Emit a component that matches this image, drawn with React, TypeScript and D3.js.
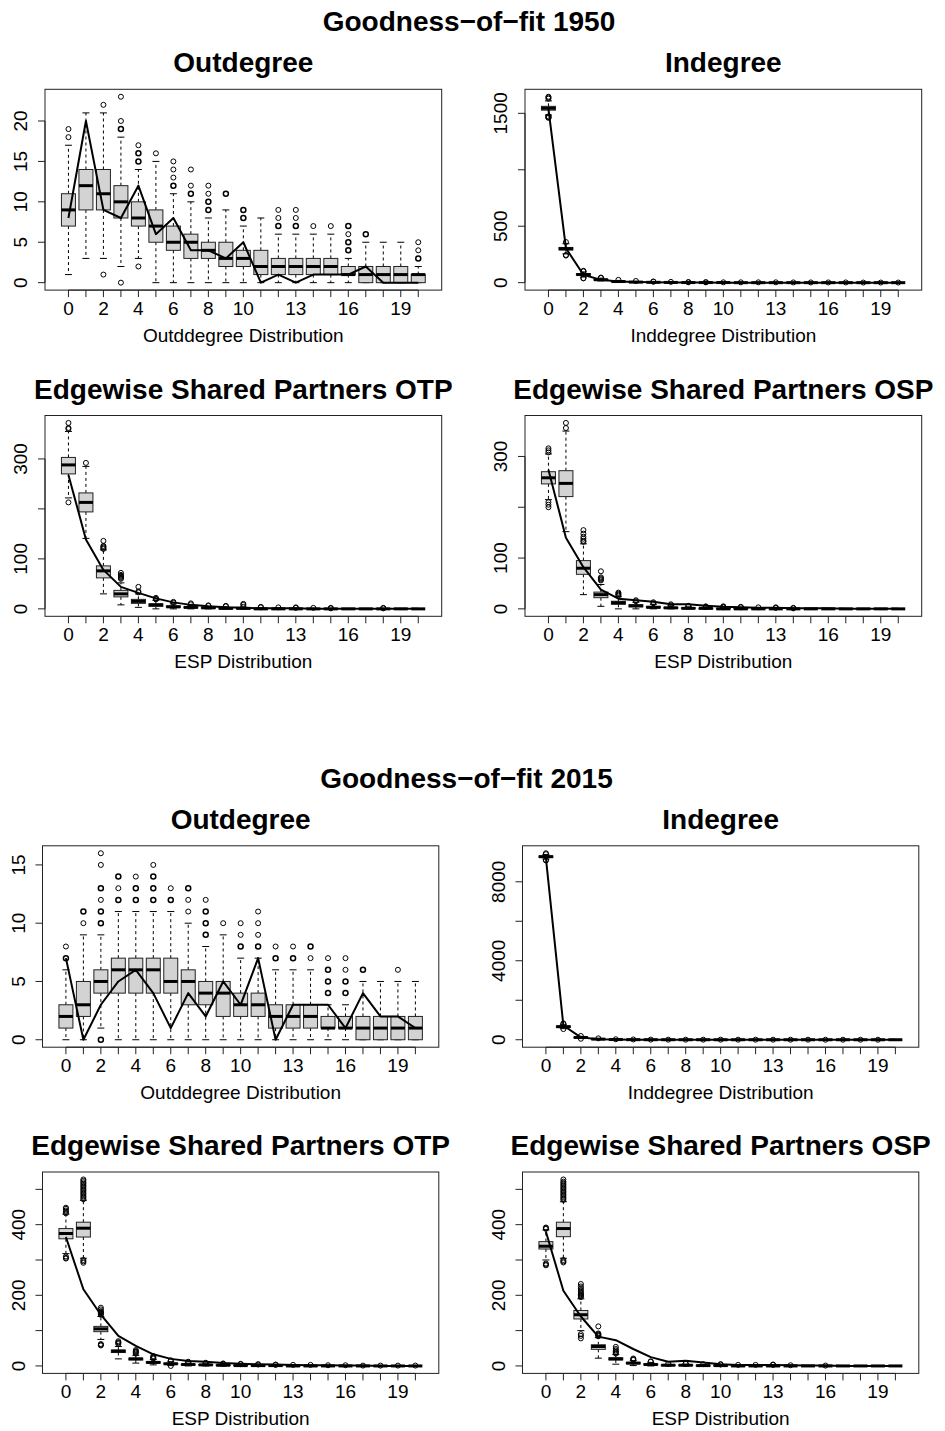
import React from "react";
import * as d3 from "d3";

// ---------- shared axis data ----------
const categories = [0, 1, 2, 3, 4, 5, 6, 7, 8, 9, 10, 11, 12, 13, 14, 15, 16, 17, 18, 19, 20];
const xTickLabels = [0, 2, 4, 6, 8, 10, 13, 16, 19];

// ---------- 1950 Outdegree ----------
// [lower whisker, q1, median, q3, upper whisker]
const out1950Box = [
  [1, 7, 9, 11, 17], [3, 9, 12, 14, 21], [3, 9, 11, 14, 21], [2, 8, 10, 12, 18], [3, 7, 8, 10, 14],
  [0, 5, 7, 9, 15], [0, 4, 5, 7, 11], [0, 3, 5, 6, 10], [0, 3, 4, 5, 8], [0, 2, 3, 5, 9],
  [0, 2, 3, 4, 7], [0, 1, 2, 4, 8], [0, 1, 2, 3, 6], [0, 1, 2, 3, 6], [0, 1, 2, 3, 6],
  [0, 1, 2, 3, 6], [0, 1, 1, 2, 3], [0, 0, 1, 2, 5], [0, 0, 1, 2, 5], [0, 0, 1, 2, 5], [0, 0, 1, 1, 2],
];
const out1950Outliers = [
  [18, 19], [], [22, 1], [19, 19, 20, 23, 0], [15, 15, 16, 16, 17, 2],
  [16], [12, 12, 13, 14, 15], [11, 11, 12, 14], [9, 9, 10, 10, 11, 12], [11, 11],
  [8, 8, 9, 9], [], [7, 7, 8, 9], [7, 7, 8, 9], [7],
  [7], [4, 4, 5, 5, 6, 7, 7], [6, 6], [], [], [3, 3, 4, 5],
];
const out1950Obs = [8, 20, 9, 8, 12, 6, 8, 4, 4, 3, 5, 0, 1, 0, 1, 1, 1, 2, 0, 0, 0];

// ---------- 1950 Indegree ----------
const ind1950Box = [
  [1485, 1528, 1545, 1562, 1610], [255, 290, 300, 312, 345], [50, 65, 72, 80, 95], [15, 22, 26, 30, 40], [3, 8, 10, 13, 20],
  [0, 4, 5, 7, 11], [0, 2, 3, 4, 7], [0, 1, 2, 3, 5], [0, 1, 1, 2, 3], [0, 0, 1, 1, 2],
  [0, 0, 1, 1, 2], [0, 0, 0, 1, 2], [0, 0, 0, 1, 2], [0, 0, 0, 1, 2], [0, 0, 0, 0, 1],
  [0, 0, 0, 0, 1], [0, 0, 0, 0, 1], [0, 0, 0, 0, 1], [0, 0, 0, 0, 0], [0, 0, 0, 0, 0], [0, 0, 0, 0, 0],
];
const ind1950Outliers = [
  [1630, 1640, 1647, 1470, 1470, 1460], [360, 245, 240], [105, 100, 40, 38], [45, 42], [25],
  [15], [9, 10], [7], [4, 5], [3, 4],
  [3], [3], [3], [3], [2],
  [2], [2], [2], [1], [1], [1],
];
const ind1950Obs = [1540, 305, 70, 25, 10, 5, 3, 2, 1, 1, 0, 0, 0, 0, 0, 0, 0, 0, 0, 0, 0];

// ---------- 1950 ESP OTP ----------
const otp1950Box = [
  [222, 270, 288, 303, 355], [141, 194, 213, 232, 285], [30, 62, 76, 86, 118], [8, 24, 30, 37, 52], [3, 11, 15, 19, 30],
  [0, 5, 8, 10, 17], [0, 3, 4, 6, 10], [0, 2, 3, 4, 7], [0, 1, 2, 3, 5], [0, 0, 1, 2, 4],
  [0, 0, 1, 1, 3], [0, 0, 0, 1, 2], [0, 0, 0, 1, 2], [0, 0, 0, 0, 1], [0, 0, 0, 0, 1],
  [0, 0, 0, 0, 0], [0, 0, 0, 0, 0], [0, 0, 0, 0, 0], [0, 0, 0, 0, 0], [0, 0, 0, 0, 0], [0, 0, 0, 0, 0],
];
const otp1950Outliers = [
  [360, 362, 372, 213], [292], [120, 122, 124, 126, 136], [60, 62, 64, 66, 68, 72], [33, 35, 44],
  [19, 20, 22], [12, 14], [9, 11], [6, 7], [5, 6],
  [4, 8, 10], [3, 4], [3], [2, 3], [2],
  [1, 2], [], [], [1, 2], [], [],
];
const otp1950Obs = [268, 139, 78, 44, 32, 21, 13, 8, 5, 3, 2, 1, 1, 1, 0, 0, 0, 0, 0, 0, 0];

// ---------- 1950 ESP OSP ----------
const osp1950Box = [
  [215, 246, 258, 270, 305], [152, 221, 247, 272, 350], [28, 68, 80, 95, 128], [5, 22, 28, 33, 48], [0, 9, 12, 15, 24],
  [0, 4, 6, 8, 13], [0, 2, 3, 5, 9], [0, 1, 2, 3, 6], [0, 1, 1, 2, 4], [0, 0, 1, 1, 3],
  [0, 0, 0, 1, 2], [0, 0, 0, 1, 2], [0, 0, 0, 1, 2], [0, 0, 0, 0, 1], [0, 0, 0, 0, 0],
  [0, 0, 0, 0, 0], [0, 0, 0, 0, 0], [0, 0, 0, 0, 0], [0, 0, 0, 0, 0], [0, 0, 0, 0, 0], [0, 0, 0, 0, 0],
];
const osp1950Outliers = [
  [308, 312, 316, 210, 205, 200], [356, 366], [132, 134, 138, 142, 148, 155], [56, 58, 60, 62, 74], [26, 28, 30, 32],
  [15, 17], [11, 13], [7, 9], [5, 6], [4, 5],
  [3, 4, 5], [3, 4], [3], [2, 3], [1, 2],
  [], [], [], [], [], [],
];
const osp1950Obs = [274, 140, 82, 38, 20, 17, 14, 9, 9, 6, 4, 3, 2, 2, 1, 1, 1, 0, 0, 0, 0];

// ---------- 2015 Outdegree ----------
const out2015Box = [
  [0, 1, 2, 3, 6], [0, 2, 3, 5, 9], [1, 4, 5, 6, 9], [0, 4, 6, 7, 11], [0, 4, 6, 7, 11],
  [0, 4, 6, 7, 11], [0, 4, 5, 7, 11], [0, 3, 5, 6, 10], [0, 3, 4, 5, 8], [0, 2, 4, 5, 9],
  [0, 2, 3, 4, 7], [0, 2, 3, 4, 7], [0, 1, 2, 3, 6], [0, 1, 2, 3, 6], [0, 1, 2, 3, 6],
  [0, 1, 1, 2, 3], [0, 1, 1, 2, 3], [0, 0, 1, 2, 5], [0, 0, 1, 2, 5], [0, 0, 1, 2, 5], [0, 0, 1, 2, 5],
];
const out2015Outliers = [
  [7, 7, 8], [10, 11, 11], [10, 10, 11, 11, 12, 13, 13, 15, 16, 0, 0], [12, 12, 13, 14, 14], [12, 12, 13, 13, 14],
  [12, 12, 13, 13, 14, 14, 15], [12, 12, 13], [11, 12, 13, 13], [9, 9, 10, 10, 11, 11, 12], [10],
  [8, 8, 9, 10], [8, 8, 9, 10, 11], [7, 7, 8], [7, 7, 8], [7, 8, 8],
  [4, 4, 5, 5, 6, 6, 7], [4, 4, 5, 5, 6, 7], [6, 6], [], [6], [],
];
const out2015Obs = [7, 0, 3, 5, 6, 4, 1, 4, 2, 5, 3, 7, 0, 3, 3, 3, 1, 4, 2, 2, 1];

// ---------- 2015 Indegree ----------
const ind2015Box = [
  [9150, 9230, 9270, 9310, 9380], [560, 620, 660, 700, 760], [60, 95, 115, 130, 170], [10, 25, 32, 40, 60], [2, 8, 10, 13, 20],
  [0, 3, 4, 6, 10], [0, 1, 2, 3, 5], [0, 0, 1, 1, 2], [0, 0, 1, 1, 2], [0, 0, 1, 1, 2],
  [0, 0, 0, 1, 2], [0, 0, 0, 1, 2], [0, 0, 0, 1, 2], [0, 0, 0, 0, 1], [0, 0, 0, 0, 1],
  [0, 0, 0, 0, 1], [0, 0, 0, 0, 0], [0, 0, 0, 0, 0], [0, 0, 0, 0, 0], [0, 0, 0, 0, 0], [0, 0, 0, 0, 0],
];
const ind2015Outliers = [
  [9400, 9445, 9100, 9080], [800, 830, 540], [190, 50], [70], [25],
  [13], [7], [3], [3], [3],
  [3], [3], [3], [2], [2],
  [2], [1], [1], [1], [1], [],
];
const ind2015Obs = [9200, 720, 120, 30, 8, 3, 1, 0, 0, 0, 0, 0, 0, 0, 0, 0, 0, 0, 0, 0, 0];

// ---------- 2015 ESP OTP ----------
const otp2015Box = [
  [318, 360, 375, 389, 430], [305, 365, 390, 407, 469], [75, 97, 105, 112, 140], [20, 38, 42, 45, 55], [8, 17, 20, 22, 30],
  [3, 8, 10, 12, 18], [1, 5, 6, 8, 12], [0, 3, 4, 5, 8], [0, 2, 3, 4, 6], [0, 1, 2, 3, 5],
  [0, 1, 1, 2, 4], [0, 0, 1, 1, 3], [0, 0, 1, 1, 2], [0, 0, 0, 1, 2], [0, 0, 0, 1, 2],
  [0, 0, 0, 0, 1], [0, 0, 0, 0, 1], [0, 0, 0, 0, 0], [0, 0, 0, 0, 0], [0, 0, 0, 0, 0], [0, 0, 0, 0, 0],
];
const otp2015Outliers = [
  [432, 436, 440, 445, 448, 310, 306, 304],
  [472, 476, 480, 484, 488, 492, 496, 500, 504, 508, 512, 516, 520, 524, 528, 300, 296, 292],
  [145, 148, 150, 152, 155, 160, 165, 62, 60, 58], [62, 65, 67, 70], [35, 38, 40, 42, 45],
  [21, 23, 25, 28], [14, 16, 0], [10, 12], [7, 9], [6, 7],
  [5, 6], [4, 5], [3, 4], [3], [3],
  [2], [2], [1], [1], [1], [1],
];
const otp2015Obs = [365, 217, 145, 85, 57, 33, 20, 14, 12, 8, 6, 5, 4, 3, 2, 2, 1, 1, 0, 0, 0];

// ---------- 2015 ESP OSP ----------
const osp2015Box = [
  [300, 331, 339, 352, 385], [305, 366, 389, 407, 465], [100, 133, 145, 157, 190], [22, 47, 55, 60, 80], [5, 17, 20, 23, 32],
  [1, 6, 8, 10, 15], [0, 3, 4, 6, 10], [0, 1, 2, 3, 5], [0, 1, 2, 3, 5], [0, 0, 1, 2, 4],
  [0, 0, 1, 1, 3], [0, 0, 0, 1, 2], [0, 0, 0, 1, 2], [0, 0, 0, 1, 2], [0, 0, 0, 0, 1],
  [0, 0, 0, 0, 0], [0, 0, 0, 0, 0], [0, 0, 0, 0, 0], [0, 0, 0, 0, 0], [0, 0, 0, 0, 0], [0, 0, 0, 0, 0],
];
const osp2015Outliers = [
  [388, 390, 392, 290, 287, 285],
  [470, 474, 478, 482, 486, 490, 494, 498, 502, 506, 510, 514, 518, 522, 528, 300, 296, 293],
  [195, 198, 200, 203, 206, 210, 215, 220, 225, 232, 90, 85, 78], [84, 86, 88, 90, 92, 112], [35, 38, 40, 44, 48, 54],
  [17, 19, 21], [12, 13], [6], [6, 7], [5],
  [4, 5], [3], [3], [3, 4], [2],
  [], [1], [], [], [], [],
];
const osp2015Obs = [380, 213, 140, 83, 73, 48, 25, 12, 15, 10, 5, 3, 3, 3, 2, 1, 1, 0, 0, 0, 0];

// ---------- tick values ----------
const ticksOut1950 = [0, 5, 10, 15, 20];
const labelsOut1950 = [0, 5, 10, 15, 20];
const ticksInd1950 = [0, 500, 1000, 1500];
const labelsInd1950 = [0, 500, 1500];
const ticksEsp1950 = [0, 100, 200, 300];
const labelsEsp1950 = [0, 100, 300];
const ticksOut2015 = [0, 5, 10, 15];
const labelsOut2015 = [0, 5, 10, 15];
const ticksInd2015 = [0, 2000, 4000, 6000, 8000];
const labelsInd2015 = [0, 4000, 8000];
const ticksEsp2015 = [0, 100, 200, 300, 400, 500];
const labelsEsp2015 = [0, 200, 400];

const FONT = "'Liberation Sans', Arial, Helvetica, sans-serif";

type PanelProps = {
  x: number; y: number; w: number; h: number;
  title: string; xTitle: string;
  boxes: number[][]; outliers: number[][]; obs: number[];
  yTicks: number[]; yLabels: number[];
};

function Panel(p: PanelProps) {
  const { x, y, w, h } = p;
  const n = categories.length;
  const xs = d3.scaleLinear().domain([0.5 - 0.04 * n, n + 0.5 + 0.04 * n]).range([x, x + w]);
  const all = [...p.boxes.flat(), ...p.outliers.flat(), ...p.obs];
  const ymax = d3.max(all) as number;
  const ymin = Math.min(0, d3.min(all) as number);
  const r = ymax - ymin;
  const ys = d3.scaleLinear().domain([ymin - 0.04 * r, ymax + 0.04 * r]).range([y + h, y]);
  const unit = xs(2) - xs(1);
  const half = 0.4 * unit;
  const staple = 0.2 * unit;
  const bottom = y + h;
  const line = d3.line<number>().x((_, i) => xs(i + 1)).y((v) => ys(v));

  return (
    <g>
      <text x={x + w / 2} y={y - 17} textAnchor="middle" fontFamily={FONT} fontSize={28} fontWeight="bold">{p.title}</text>
      {categories.map((c, i) => {
        const [lo, q1, med, q3, hi] = p.boxes[i];
        const cx = xs(i + 1);
        const counts = d3.rollups(p.outliers[i], (v) => v.length, (v) => v);
        return (
          <g key={c}>
            <line x1={cx} x2={cx} y1={ys(q3)} y2={ys(hi)} stroke="#000" strokeWidth={1} strokeDasharray="3,3" />
            <line x1={cx} x2={cx} y1={ys(q1)} y2={ys(lo)} stroke="#000" strokeWidth={1} strokeDasharray="3,3" />
            <line x1={cx - staple} x2={cx + staple} y1={ys(hi)} y2={ys(hi)} stroke="#000" strokeWidth={1} />
            <line x1={cx - staple} x2={cx + staple} y1={ys(lo)} y2={ys(lo)} stroke="#000" strokeWidth={1} />
            <rect x={cx - half} y={ys(q3)} width={2 * half} height={Math.max(0, ys(q1) - ys(q3))} fill="#d3d3d3" stroke="#222" strokeWidth={1} />
            <line x1={cx - half} x2={cx + half} y1={ys(med)} y2={ys(med)} stroke="#000" strokeWidth={3} />
            {counts.map(([v, cnt]) => (
              <circle key={v} cx={cx} cy={ys(v)} r={2.5} fill="none" stroke="#000" strokeWidth={Math.min(2, 1 + 0.5 * (cnt - 1))} />
            ))}
          </g>
        );
      })}
      <path d={line(p.obs) || ""} fill="none" stroke="#000" strokeWidth={2} strokeLinejoin="round" />
      <rect x={x} y={y} width={w} height={h} fill="none" stroke="#222" strokeWidth={1} />
      {/* x axis */}
      <line x1={xs(1)} x2={xs(n)} y1={bottom} y2={bottom} stroke="#222" />
      {categories.map((c, i) => (
        <line key={"xt" + c} x1={xs(i + 1)} x2={xs(i + 1)} y1={bottom} y2={bottom + 7} stroke="#222" />
      ))}
      {xTickLabels.map((c) => (
        <text key={"xl" + c} x={xs(categories.indexOf(c) + 1)} y={bottom + 24.5} textAnchor="middle" fontFamily={FONT} fontSize={19}>{c}</text>
      ))}
      <text x={x + w / 2} y={bottom + 52} textAnchor="middle" fontFamily={FONT} fontSize={19}>{p.xTitle}</text>
      {/* y axis */}
      <line x1={x} x2={x} y1={ys(p.yTicks[0])} y2={ys(p.yTicks[p.yTicks.length - 1])} stroke="#222" />
      {p.yTicks.map((t) => (
        <line key={"yt" + t} x1={x - 7} x2={x} y1={ys(t)} y2={ys(t)} stroke="#222" />
      ))}
      {p.yLabels.map((t) => (
        <text key={"yl" + t} transform={`translate(${x - 18},${ys(t)}) rotate(-90)`} textAnchor="middle" fontFamily={FONT} fontSize={19}>{t}</text>
      ))}
    </g>
  );
}

const blocks = [
  {
    title: "Goodness\u2212of\u2212fit 1950", dx: 0, dy: 0, w: 396.7, h: 200.8,
    panels: [
      { col: 0, row: 0, title: "Outdegree", xTitle: "Outddegree Distribution", boxes: out1950Box, outliers: out1950Outliers, obs: out1950Obs, yTicks: ticksOut1950, yLabels: labelsOut1950 },
      { col: 1, row: 0, title: "Indegree", xTitle: "Inddegree Distribution", boxes: ind1950Box, outliers: ind1950Outliers, obs: ind1950Obs, yTicks: ticksInd1950, yLabels: labelsInd1950 },
      { col: 0, row: 1, title: "Edgewise Shared Partners OTP", xTitle: "ESP Distribution", boxes: otp1950Box, outliers: otp1950Outliers, obs: otp1950Obs, yTicks: ticksEsp1950, yLabels: labelsEsp1950 },
      { col: 1, row: 1, title: "Edgewise Shared Partners OSP", xTitle: "ESP Distribution", boxes: osp1950Box, outliers: osp1950Outliers, obs: osp1950Obs, yTicks: ticksEsp1950, yLabels: labelsEsp1950 },
    ],
  },
  {
    title: "Goodness\u2212of\u2212fit 2015", dx: -2.5, dy: 756.5, w: 396.3, h: 201.4,
    panels: [
      { col: 0, row: 0, title: "Outdegree", xTitle: "Outddegree Distribution", boxes: out2015Box, outliers: out2015Outliers, obs: out2015Obs, yTicks: ticksOut2015, yLabels: labelsOut2015 },
      { col: 1, row: 0, title: "Indegree", xTitle: "Inddegree Distribution", boxes: ind2015Box, outliers: ind2015Outliers, obs: ind2015Obs, yTicks: ticksInd2015, yLabels: labelsInd2015 },
      { col: 0, row: 1, title: "Edgewise Shared Partners OTP", xTitle: "ESP Distribution", boxes: otp2015Box, outliers: otp2015Outliers, obs: otp2015Obs, yTicks: ticksEsp2015, yLabels: labelsEsp2015 },
      { col: 1, row: 1, title: "Edgewise Shared Partners OSP", xTitle: "ESP Distribution", boxes: osp2015Box, outliers: osp2015Outliers, obs: osp2015Obs, yTicks: ticksEsp2015, yLabels: labelsEsp2015 },
    ],
  },
];

const colX = [45, 525];
const rowY = [89.3, 415.5];

export default function App() {
  return (
    <svg width={945} height={1431} viewBox="0 0 945 1431" style={{ position: "absolute", left: 0, top: 0, background: "#fff" }}>
      <rect x={0} y={0} width={945} height={1431} fill="#fff" />
      {blocks.map((b) => (
        <g key={b.title}>
          <text x={469 + b.dx} y={rowY[0] + b.dy - 58.3} textAnchor="middle" fontFamily={FONT} fontSize={28} fontWeight="bold">{b.title}</text>
          {b.panels.map((p) => (
            <Panel
              key={p.title + p.col + p.row}
              x={colX[p.col] + b.dx}
              y={rowY[p.row] + b.dy}
              w={b.w}
              h={b.h}
              title={p.title}
              xTitle={p.xTitle}
              boxes={p.boxes}
              outliers={p.outliers}
              obs={p.obs}
              yTicks={p.yTicks}
              yLabels={p.yLabels}
            />
          ))}
        </g>
      ))}
    </svg>
  );
}
